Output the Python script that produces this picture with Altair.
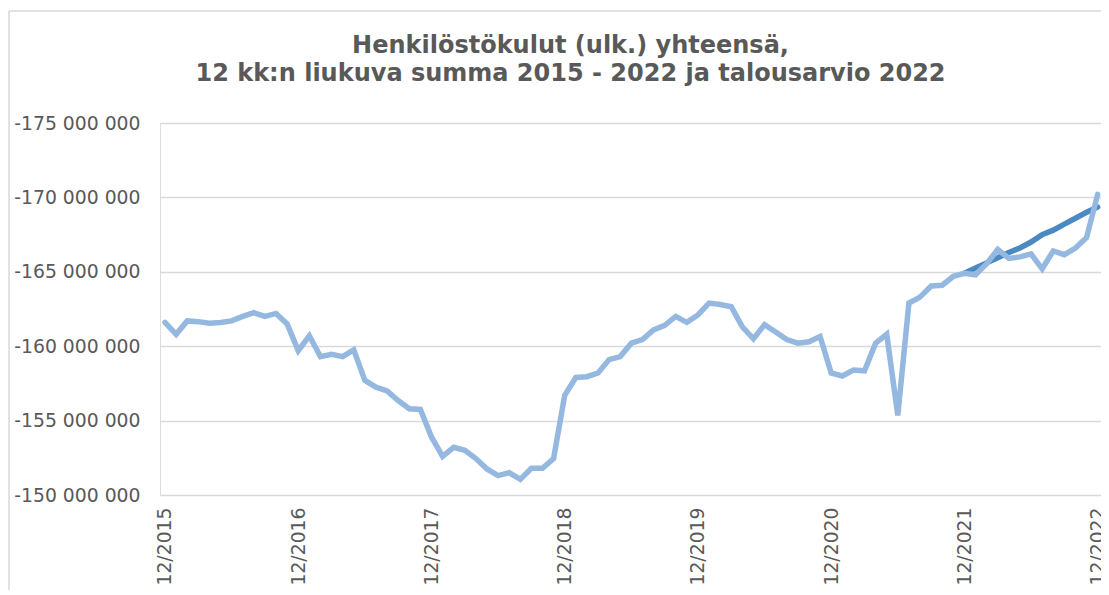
import altair as alt
import pandas as pd

# Month labels 12/2015 ... 12/2022
months = ["12/2015"] + [f"{m}/{y}" for y in range(2016, 2023) for m in range(1, 13)]

# 12-month rolling sum (million EUR)
actual_mil = [
    -161.6, -160.8, -161.7, -161.65, -161.55, -161.6, -161.7, -162.0, -162.25, -162.0,
    -162.2, -161.5, -159.7, -160.7, -159.3, -159.45, -159.3, -159.75, -157.7, -157.25,
    -157.0, -156.35, -155.8, -155.75, -153.9, -152.6, -153.2, -153.0, -152.45, -151.75,
    -151.3, -151.5, -151.05, -151.8, -151.8, -152.45, -156.7, -157.9, -157.95, -158.2,
    -159.1, -159.3, -160.2, -160.45, -161.1, -161.4, -162.0, -161.6, -162.1, -162.9,
    -162.8, -162.65, -161.3, -160.5, -161.45, -160.95, -160.45, -160.2, -160.3, -160.65,
    -158.2, -158.0, -158.4, -158.35, -160.2, -160.8, -155.35, -162.9, -163.3, -164.05,
    -164.1, -164.7, -164.9, -164.8, -165.55, -166.5, -165.9, -166.0, -166.2, -165.2,
    -166.4, -166.15, -166.6, -167.3, -170.2,
]

# Budget 2022 (from 12/2021)
budget_start = 72
budget_mil = [
    -164.9, -165.25, -165.6, -165.95, -166.3, -166.6, -167.0, -167.5, -167.8, -168.2,
    -168.6, -169.0, -169.35,
]

y_ticks = [-175e6, -170e6, -165e6, -160e6, -155e6, -150e6]
x_ticks = list(range(0, 85, 12))

df_actual = pd.DataFrame({
    "idx": list(range(len(actual_mil))),
    "month": months,
    "value": [v * 1e6 for v in actual_mil],
})
df_budget = pd.DataFrame({
    "idx": list(range(budget_start, budget_start + len(budget_mil))),
    "month": months[budget_start:budget_start + len(budget_mil)],
    "value": [v * 1e6 for v in budget_mil],
})

FONT = "DejaVu Sans"
GREY = "#595959"

x_enc = alt.X(
    "idx:Q",
    scale=alt.Scale(domain=[-0.45, 84.3], nice=False, zero=False),
    axis=alt.Axis(
        values=x_ticks,
        labelExpr="'12/' + (2015 + datum.value / 12)",
        labelAngle=270,
        grid=False,
        domain=False,
        ticks=False,
        labelPadding=12,
        labelFontSize=18.8,
        labelColor=GREY,
        labelFont=FONT,
        labelFlush=False,
        labelOverlap=False,
        title=None,
    ),
)
y_enc = alt.Y(
    "value:Q",
    scale=alt.Scale(domain=[-175e6, -150e6], reverse=True, nice=False, zero=False),
    axis=alt.Axis(
        values=y_ticks,
        labelExpr="(datum.value < 0 ? '-' : '') + replace(format(abs(datum.value), ','), regexp(',', 'g'), ' ')",
        grid=True,
        gridColor="#d9d9d9",
        gridWidth=1.5,
        domain=False,
        ticks=False,
        labelPadding=20,
        labelFontSize=18.8,
        labelColor=GREY,
        labelFont=FONT,
        title=None,
    ),
)

budget_line = alt.Chart(df_budget).mark_line(
    color="#4A89C2", strokeWidth=5.5, strokeCap="round"
).encode(x=x_enc, y=y_enc)

actual_line = alt.Chart(df_actual).mark_line(
    color="#95B8E0", strokeWidth=5.5, strokeCap="round"
).encode(x=x_enc, y=y_enc)

frame_df = pd.DataFrame({"a": [0]})
border_left = alt.Chart(frame_df).mark_rule(color="#d9d9d9", strokeWidth=1.5).encode(
    x=alt.value(-151), y=alt.value(-112), y2=alt.value(480)
)
border_top = alt.Chart(frame_df).mark_rule(color="#d9d9d9", strokeWidth=1.5).encode(
    x=alt.value(-151), x2=alt.value(960), y=alt.value(-112)
)

chart = alt.layer(border_left, border_top, budget_line, actual_line).properties(
    width=941,
    height=372,
    autosize=alt.AutoSizeParams(type="none"),
    padding={"left": 152, "top": 115, "right": 0, "bottom": 95},
    title=alt.TitleParams(
        text=["Henkilöstökulut (ulk.) yhteensä,",
              "12 kk:n liukuva summa 2015 - 2022 ja talousarvio 2022"],
        font=FONT,
        fontSize=24,
        fontWeight="bold",
        color=GREY,
        anchor="middle",
        frame="group",
        dx=-60,
        lineHeight=28,
        offset=-76,
    ),
).configure_view(stroke=None).configure(background="white")

chart.save("out.html", embed_options={"renderer": "svg", "actions": False})
